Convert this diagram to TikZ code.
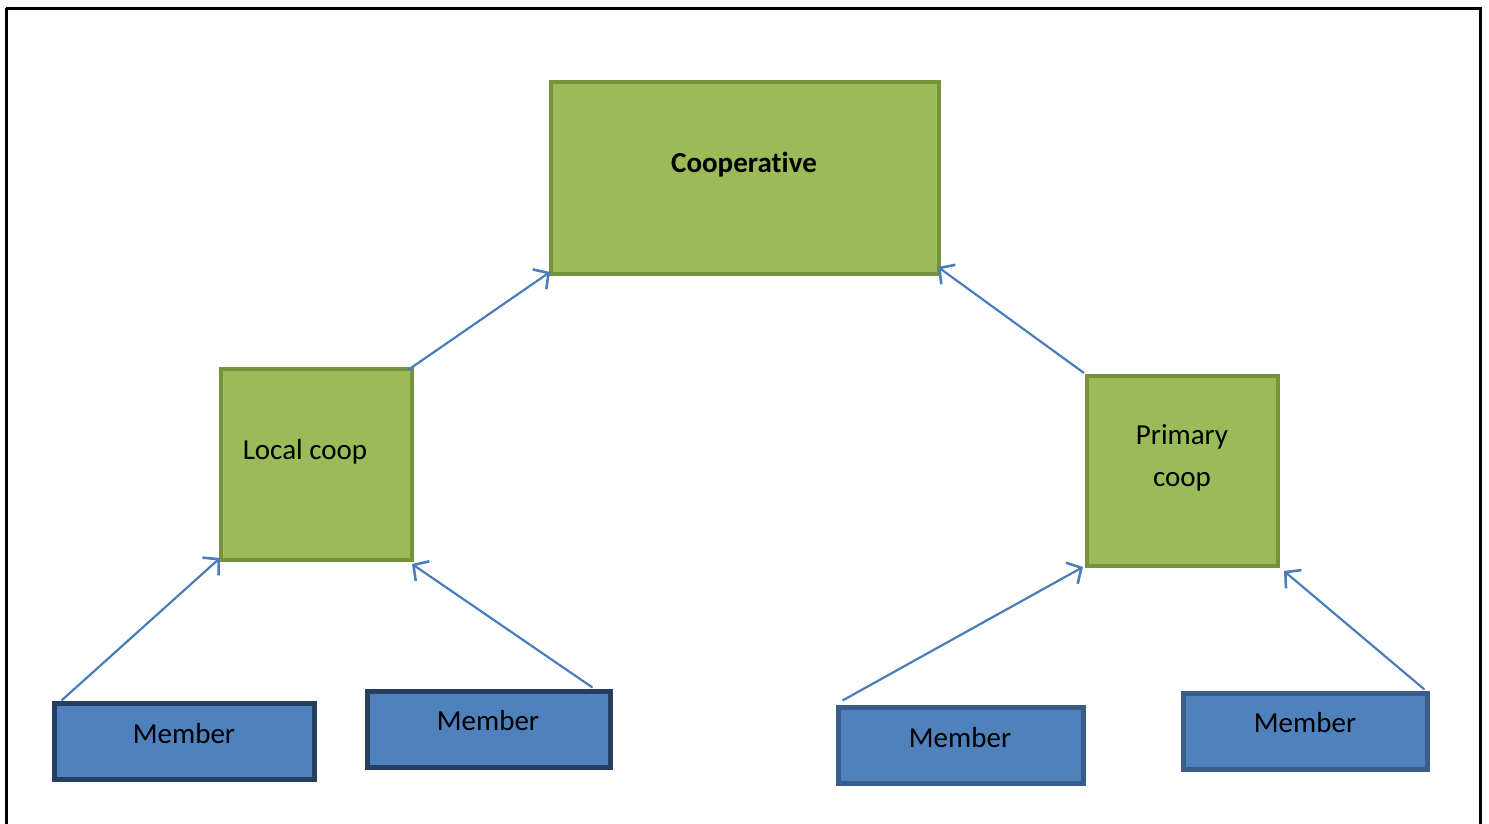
\documentclass[tikz,border=0pt]{standalone}
\usepackage{fontspec}
\setmainfont{Carlito}[RawFeature={-liga;-calt;-dlig}]
\usetikzlibrary{arrows.meta,calc}
\definecolor{leafgreen}{HTML}{9BBB59}
\definecolor{leafedge}{HTML}{76923C}
\definecolor{memberblue}{HTML}{4F81BD}
\definecolor{memberdark}{HTML}{243F60}
\definecolor{memberedge}{HTML}{385D8A}
\definecolor{linkblue}{HTML}{4A7EBB}
\begin{document}
\begin{tikzpicture}[x=1pt,y=-1pt,
  coopbox/.style={draw=leafedge,fill=leafgreen,line width=4pt,inner sep=0pt},
  memberbox/.style={draw=memberdark,fill=memberblue,line width=5pt,inner sep=0pt},
  memberboxlight/.style={draw=memberedge,fill=memberblue,line width=5pt,inner sep=0pt},
  lbl/.style={anchor=base,font=\fontsize{29}{42}\selectfont,inner sep=0pt,align=center},
  link/.style={draw=linkblue,line width=2.2pt,-{Straight Barb[length=11pt,width=24pt,line width=2.6pt]}}]
  \useasboundingbox (0,0) rectangle (1489,823);
  \begin{scope}
    \clip (0,0) rectangle (1489,823);
    \draw[line width=3pt] (6,8) -- (1480,8) -- (1480,840) (6,8) -- (6,840);
  \end{scope}

  % boxes, sized on the centre line of their borders
  \node[coopbox,minimum width=388pt,minimum height=192pt] (coop) at (745,178) {};
  \node[coopbox,minimum width=191pt,minimum height=191pt] (local) at (316.5,464.5) {};
  \node[coopbox,minimum width=191pt,minimum height=190pt] (primary) at (1182.5,471) {};
  \node[memberbox,minimum width=260pt,minimum height=76pt] (m1) at (184,741) {};
  \node[memberbox,minimum width=243pt,minimum height=76pt] (m2) at (488.5,729) {};
  \node[memberboxlight,minimum width=245pt,minimum height=76pt] (m3) at (960.5,745) {};
  \node[memberboxlight,minimum width=244pt,minimum height=76pt] (m4) at (1305,731) {};

  % texts
  \node[lbl,font=\fontsize{29}{42}\selectfont\bfseries] (tcoop) at (744,172) {Cooperat\kern0pt ive};
  \node[lbl] (tlocal) at (305,459) {Local coop};
  \node[lbl] (tprimary) at (1182,486) {Primary\\coop};
  \node[lbl] (t1) at (184,743) {Member};
  \node[lbl] (t2) at (488,730) {Member};
  \node[lbl] (t3) at (960,747) {Member};
  \node[lbl] (t4) at (1305,732) {Member};

  % connectors
  \draw[link] ($(m1.north west)+(10,0)$) -- ($(local.south west)+(1,-4)$);
  \draw[link] ($(m2.north east)+(-20,-1)$) -- ($(local.south east)+(-2,2)$);
  \draw[link] ($(local.north east)+(-6,3)$) -- ($(coop.south west)+(1,-4)$);
  \draw[link] ($(primary.north west)+(-1,-1)$) -- ($(coop.south east)+(-3,-9)$);
  \draw[link] ($(m3.north west)+(7,-4)$) -- ($(primary.south west)+(-2,-1)$);
  \draw[link] ($(m4.north east)+(-5,-1)$) -- ($(primary.south east)+(4,3)$);
\end{tikzpicture}
\end{document}
